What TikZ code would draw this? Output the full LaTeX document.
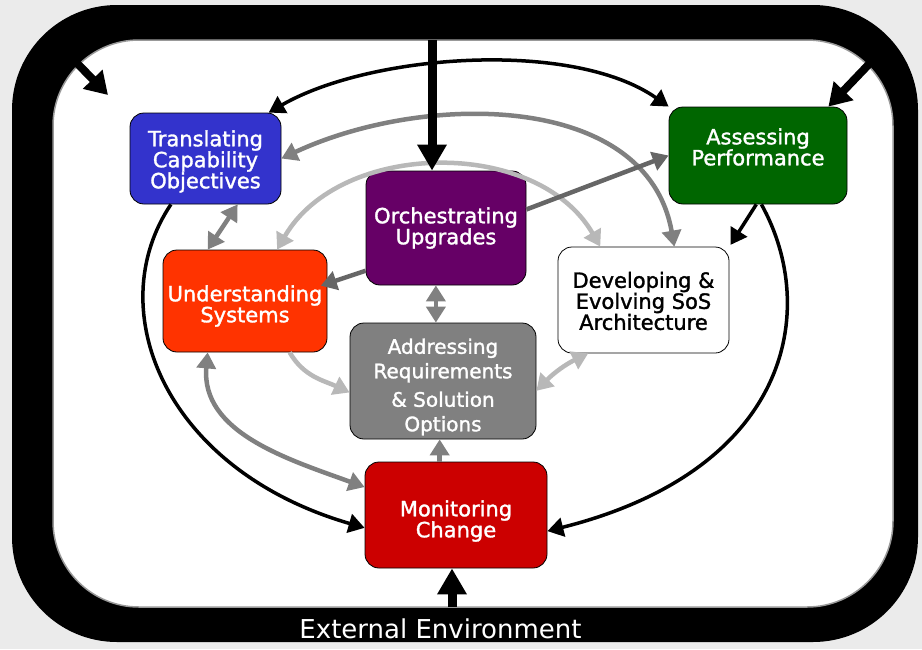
\documentclass[tikz,border=0pt]{standalone}
\usepackage{fontspec}
\setmainfont{DejaVu Sans}
\newfontfamily\boxfont{DejaVu Sans}[FakeBold=1.5]
\usetikzlibrary{arrows.meta}
\definecolor{bgc}{HTML}{EBEBEB}
\definecolor{tblue}{HTML}{3333CC}
\definecolor{agreen}{HTML}{006600}
\definecolor{opurple}{HTML}{660066}
\definecolor{uorange}{HTML}{FF3300}
\definecolor{adgray}{HTML}{808080}
\definecolor{mred}{HTML}{CC0000}
\definecolor{argray}{HTML}{808080}
\definecolor{ardark}{HTML}{666666}
\definecolor{arlight}{HTML}{B8B8B8}
\tikzset{
  box/.style={draw=black, line width=0.8pt, rounded corners=14pt, inner sep=0pt},
  txt/.style={align=center, inner sep=0pt, text=white, font=\boxfont\fontsize{21}{21}\selectfont},
  tip/.tip={Triangle[length=16pt,width=19pt]},
  bk/.style={draw=black, line width=3.5pt},
  gr/.style={draw=argray, line width=4.5pt},
  dg/.style={draw=ardark, line width=4.5pt},
  lg/.style={draw=arlight, line width=4.5pt},
  fat/.style={draw=black, line width=9pt, -{Triangle[length=26pt,width=28pt]}},
  fatd/.style={draw=black, line width=8pt, -{Triangle[length=22pt,width=26pt]}},
}
\begin{document}
\begin{tikzpicture}[x=1pt,y=-1pt]
\useasboundingbox (0,0) rectangle (922,649);
\fill[bgc] (0,0) rectangle (922,649);
\fill[black, rounded corners=105pt] (12,5) rectangle (918,642);
\filldraw[fill=white, draw=gray!80, line width=1.5pt, rounded corners=86pt] (53,40) rectangle (893,607);

% boxes
\node[box, fill=tblue, minimum width=151pt, minimum height=91pt] (T) at (205.5,158.5) {};
\node[box, fill=agreen, minimum width=178pt, minimum height=97pt] (A) at (758,155.5) {};
\node[box, fill=opurple, minimum width=160pt, minimum height=114pt] (O) at (446,228) {};
\node[box, fill=uorange, minimum width=164pt, minimum height=102pt] (U) at (245,301) {};
\node[box, fill=white, minimum width=171pt, minimum height=106pt] (D) at (643.5,300) {};
\node[box, fill=adgray, minimum width=186pt, minimum height=116pt] (Ad) at (443,381) {};
\node[box, fill=mred, minimum width=182pt, minimum height=106pt] (M) at (456,515) {};

% box texts
\node[txt] (Tt) at (205.5,161.5) {Translating\\Capability\\Objectives};
\node[txt] (At) at (758,147) {Assessing\\Performance};
\node[txt] (Ot) at (446,228) {Orchestrating\\Upgrades};
\node[txt] (Ut) at (245,306) {Understanding\\Systems};
\node[txt, text=black] (Dt) at (643.5,301) {Developing \&\\Evolving SoS\\Architecture};
\node[txt, font=\boxfont\fontsize{20}{24.5}\selectfont] (Adt) at (443,387) {Addressing\\Requirements\\[4pt]\& Solution\\Options};
\node[txt] (Mt) at (456,521) {Monitoring\\Change};

% light gray connectors
\draw[lg, tip-tip] (U.58) to[out=60,in=120] (D.129);
\draw[lg, -tip] (U.311) to[out=300,in=155] (Ad.187);
\draw[lg, tip-tip] (D.224) to[bend right=10] (Ad.354);

% gray connectors
\draw[gr, tip-tip] (T.east) to[out=25,in=100] (D.60);
\draw[gr, tip-tip] (T.305) -- (U.126);
\draw[gr, tip-tip] (U.234) to[out=265,in=160] (M.163);
\draw[gr, tip-tip] (O.260) -- (O.260 |- Ad.north);
\draw[gr, -tip] (M.107) -- (M.107 |- Ad.south);

% dark gray connectors
\draw[dg, -tip, shorten >=-7pt] (O.208) -- (U.12);
\draw[dg, -tip] (O.13) -- (A.west);

% black connectors
\draw[bk, tip-tip] (T.36) to[out=30,in=145,looseness=0.75] (A.north west);
\draw[bk, -tip] (T.233) .. controls (100,310) and (165,470) .. (M.188);
\draw[bk, -tip] (A.274) .. controls (820,310) and (790,470) .. (M.350);
\draw[bk, -tip, shorten >=2pt] (A.268) -- (D.north east);

% external environment arrows
\coordinate (ftop) at (432,40);
\draw[fat] (ftop) -- (ftop |- O.north);
\coordinate (ftl) at (72,58);
\coordinate (ftlend) at (108,95);
\draw[fatd] (ftl) -- (ftlend);
\coordinate (ftr) at (872,61);
\draw[fatd] (ftr) -- ([xshift=-19pt]A.north east);
\coordinate (fbot) at (452,607);
\draw[fat] (fbot) -- (fbot |- M.south);

\node[text=white, anchor=base, inner sep=0pt, font=\fontsize{26}{26}\selectfont] (ext) at (440.5,638) {External Environment};
\end{tikzpicture}
\end{document}
